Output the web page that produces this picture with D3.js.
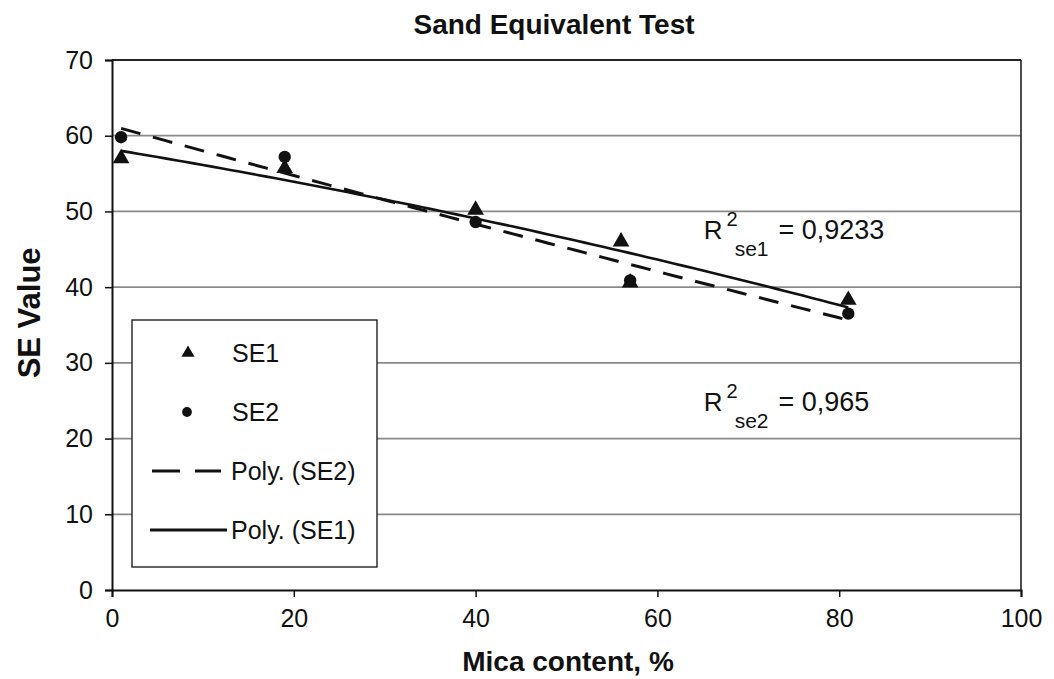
<!DOCTYPE html>
<html>
<head>
<meta charset="utf-8">
<script src="https://cdn.jsdelivr.net/npm/d3@7"></script>
<style>
  body { margin: 0; background: #fff; }
  svg text { font-family: "Liberation Sans", Arial, sans-serif; fill: #111; }
</style>
</head>
<body>
<div id="chart"></div>
<script>
// data
var se1X = [1, 19, 40, 56, 57, 81];
var se1Y = [57.0, 55.7, 50.2, 46.0, 40.6, 38.3];
var se2X = [1, 19, 40, 57, 81];
var se2Y = [59.8, 57.2, 48.6, 40.9, 36.5];
var xTicks = [0, 20, 40, 60, 80, 100];
var yTicks = [0, 10, 20, 30, 40, 50, 60, 70];
var r2Labels = [{ sub: "se1", val: "0,9233", x: 65.1, y: 46.4 }, { sub: "se2", val: "0,965", x: 65.1, y: 23.7 }];

var width = 1054, height = 679;
var m = { left: 112, right: 33, top: 60, bottom: 89 };

var svg = d3.select("#chart").append("svg").attr("width", width).attr("height", height);

var x = d3.scaleLinear().domain([0, 100]).range([m.left, width - m.right]);
var y = d3.scaleLinear().domain([0, 70]).range([height - m.bottom, m.top]);

// quadratic least squares, like the spreadsheet "Poly." trendline
function polyFit(xs, ys) {
  var S = [0, 0, 0, 0, 0], T = [0, 0, 0];
  xs.forEach(function (xv, i) {
    for (var k = 0; k < 5; k++) S[k] += Math.pow(xv, k);
    for (var j = 0; j < 3; j++) T[j] += ys[i] * Math.pow(xv, j);
  });
  var A = [[S[0], S[1], S[2], T[0]], [S[1], S[2], S[3], T[1]], [S[2], S[3], S[4], T[2]]];
  for (var c = 0; c < 3; c++) {
    for (var r = c + 1; r < 3; r++) {
      var f = A[r][c] / A[c][c];
      for (var k2 = c; k2 < 4; k2++) A[r][k2] -= f * A[c][k2];
    }
  }
  var b = [0, 0, 0];
  for (var i2 = 2; i2 >= 0; i2--) {
    var s = A[i2][3];
    for (var j2 = i2 + 1; j2 < 3; j2++) s -= A[i2][j2] * b[j2];
    b[i2] = s / A[i2][i2];
  }
  return function (xv) { return b[0] + b[1] * xv + b[2] * xv * xv; };
}

// gridlines
svg.append("g").selectAll("line")
  .data(yTicks.filter(function (d) { return d > 0 && d < 70; }))
  .enter().append("line")
  .attr("x1", x(0)).attr("x2", x(100))
  .attr("y1", function (d) { return y(d); }).attr("y2", function (d) { return y(d); })
  .attr("stroke", "#8a8a8a").attr("stroke-width", 1.8);

// frame (top + right)
svg.append("line").attr("x1", x(0)).attr("x2", x(100)).attr("y1", y(70)).attr("y2", y(70))
  .attr("stroke", "#222").attr("stroke-width", 2);
svg.append("line").attr("x1", x(100)).attr("x2", x(100)).attr("y1", y(70)).attr("y2", y(0))
  .attr("stroke", "#222").attr("stroke-width", 1.6);

// axes
var xAxis = svg.append("g").attr("transform", "translate(0," + y(0) + ")")
  .call(d3.axisBottom(x).tickValues(xTicks).tickSize(7).tickPadding(12).tickFormat(d3.format("d")));
var yAxis = svg.append("g").attr("transform", "translate(" + x(0) + ",0)")
  .call(d3.axisLeft(y).tickValues(yTicks).tickSize(7).tickPadding(12).tickFormat(d3.format("d")));
[xAxis, yAxis].forEach(function (g) {
  g.select(".domain").attr("stroke", "#111").attr("stroke-width", 2);
  g.selectAll(".tick line").attr("stroke", "#111").attr("stroke-width", 1.5);
  g.selectAll(".tick text").style("font-size", "25px").attr("fill", "#111");
});

// trendlines
var fit1 = polyFit(se1X, se1Y), fit2 = polyFit(se2X, se2Y);
var xs = d3.range(1, 81.01, 1);
var line = d3.line().x(function (d) { return x(d[0]); }).y(function (d) { return y(d[1]); });

svg.append("path").datum(xs.map(function (v) { return [v, fit2(v)]; }))
  .attr("d", line).attr("fill", "none").attr("stroke", "#111").attr("stroke-width", 3)
  .attr("stroke-dasharray", "20,13");
svg.append("path").datum(xs.map(function (v) { return [v, fit1(v)]; }))
  .attr("d", line).attr("fill", "none").attr("stroke", "#111").attr("stroke-width", 2.6);

// markers
var tri = d3.symbol().type(d3.symbolTriangle).size(120);
var dot = d3.symbol().type(d3.symbolCircle).size(120);
svg.append("g").selectAll("path")
  .data(se2X.map(function (v, i) { return [v, se2Y[i]]; }))
  .enter().append("path").attr("d", dot).attr("fill", "#111")
  .attr("transform", function (d) { return "translate(" + x(d[0]) + "," + y(d[1]) + ")"; });
svg.append("g").selectAll("path")
  .data(se1X.map(function (v, i) { return [v, se1Y[i]]; }))
  .enter().append("path").attr("d", tri).attr("fill", "#111")
  .attr("transform", function (d) { return "translate(" + x(d[0]) + "," + y(d[1]) + ")"; });

// R^2 labels
var r2 = svg.append("g").selectAll("text").data(r2Labels).enter().append("text")
  .attr("x", function (d) { return x(d.x); }).attr("y", function (d) { return y(d.y); })
  .style("font-size", "26px");
r2.append("tspan").text("R");
r2.append("tspan").attr("dx", 4).attr("dy", -13).style("font-size", "20px").text("2");
r2.append("tspan").attr("dx", -3).attr("dy", 30).style("font-size", "21px").text(function (d) { return d.sub; });
r2.append("tspan").attr("dx", 10).attr("dy", -17).style("font-size", "27px").text(function (d) { return "= " + d.val; });

// legend
var lg = svg.append("g");
lg.append("rect").attr("x", 132).attr("y", 320).attr("width", 245).attr("height", 247)
  .attr("fill", "#fff").attr("stroke", "#222").attr("stroke-width", 1.4);
var legendItems = [
  { label: "SE1", kind: "tri" }, { label: "SE2", kind: "dot" },
  { label: "Poly. (SE2)", kind: "dash" }, { label: "Poly. (SE1)", kind: "solid" }
];
legendItems.forEach(function (d, i) {
  var cy = 353 + i * 59;
  if (d.kind === "tri") lg.append("path").attr("d", d3.symbol().type(d3.symbolTriangle).size(75)).attr("fill", "#111").attr("transform", "translate(188," + cy + ")");
  if (d.kind === "dot") lg.append("path").attr("d", d3.symbol().type(d3.symbolCircle).size(75)).attr("fill", "#111").attr("transform", "translate(187," + cy + ")");
  if (d.kind === "dash") lg.append("line").attr("x1", 152).attr("x2", 221).attr("y1", cy).attr("y2", cy).attr("stroke", "#111").attr("stroke-width", 3).attr("stroke-dasharray", "28,15");
  if (d.kind === "solid") lg.append("line").attr("x1", 150).attr("x2", 227).attr("y1", cy).attr("y2", cy).attr("stroke", "#111").attr("stroke-width", 3);
  lg.append("text").attr("x", d.kind === "tri" || d.kind === "dot" ? 232 : 231).attr("y", cy).attr("dy", "0.35em")
    .style("font-size", "25px").text(d.label);
});

// titles
svg.append("text").attr("x", 554).attr("y", 34).attr("text-anchor", "middle")
  .style("font-size", "28px").style("font-weight", "bold").text("Sand Equivalent Test");
svg.append("text").attr("x", 568).attr("y", 671).attr("text-anchor", "middle")
  .style("font-size", "28px").style("font-weight", "bold").text("Mica content, %");
svg.append("text").attr("transform", "translate(40," + y(36.6) + ") rotate(-90)")
  .attr("text-anchor", "middle").style("font-size", "31px").style("font-weight", "bold").text("SE Value");
</script>
</body>
</html>
